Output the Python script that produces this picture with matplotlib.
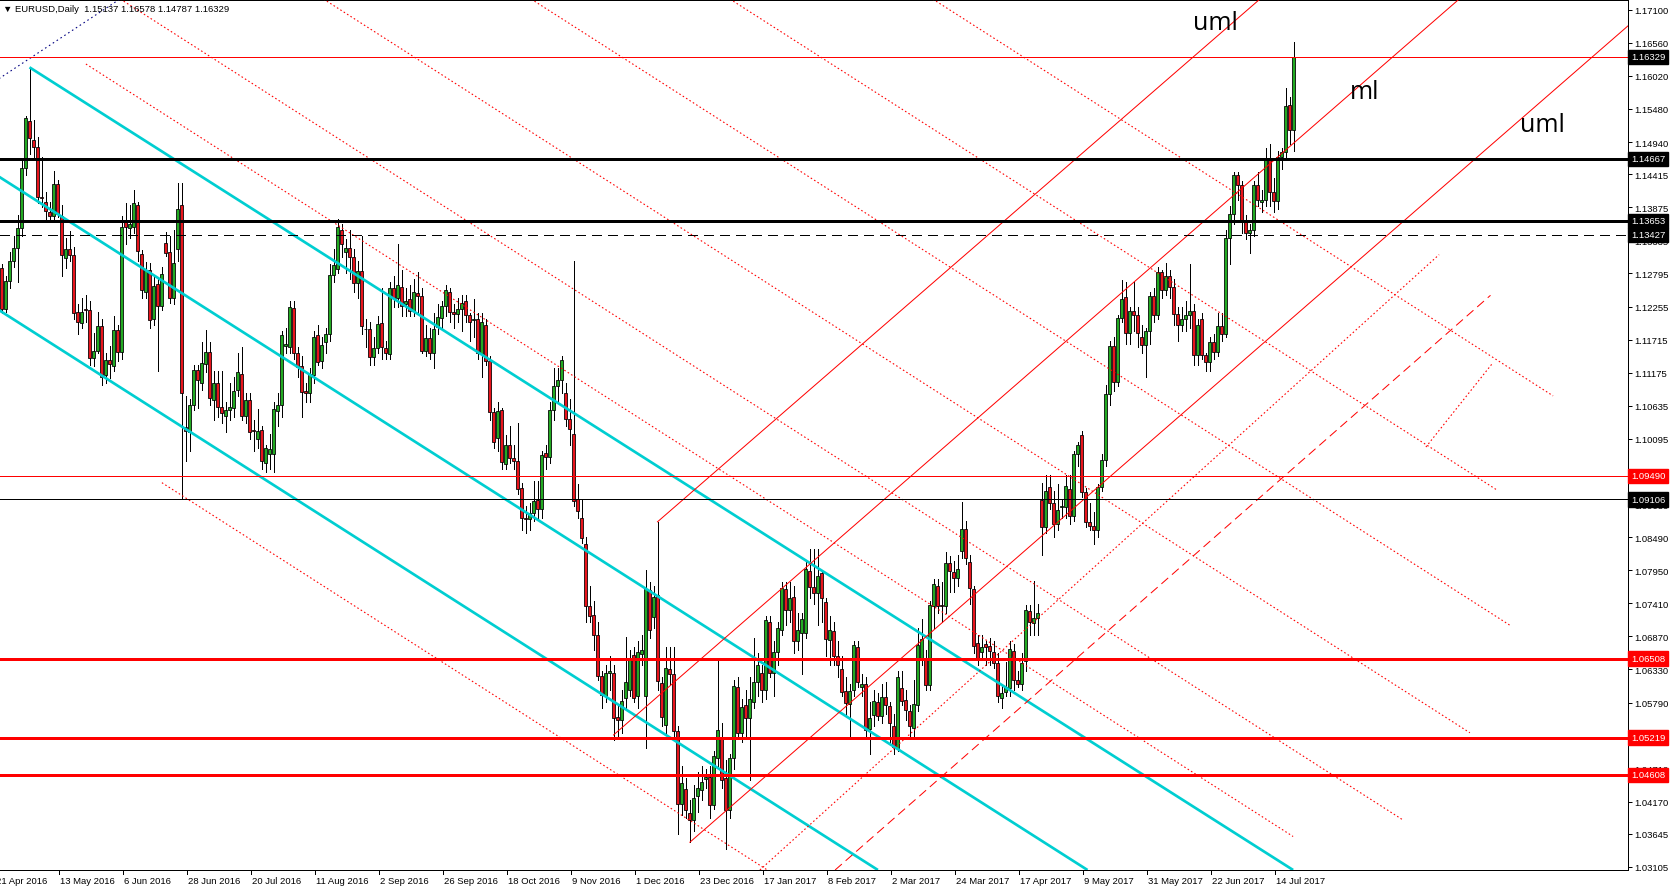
import numpy as np
import matplotlib
matplotlib.use("Agg")
import matplotlib.pyplot as plt
import matplotlib.transforms as mtransforms

plt.rcParams['font.family'] = ['Liberation Sans', 'DejaVu Sans']
plt.rcParams['lines.scale_dashes'] = False

# ---------------- data (daily bars, index 0 = 21 Apr 2016) ----------------
opens = [
1.1290,1.1288,1.1222,1.1267,1.1300,1.1321,1.1354,1.1451,1.1529,1.1497,
1.1486,1.1404,1.1396,1.1380,1.1373,1.1425,1.1374,1.1304,1.1319,1.1310,
1.1216,1.1199,1.1221,1.1220,1.1141,1.1153,1.1194,1.1113,1.1138,1.1128,
1.1187,1.1152,1.1366,1.1354,1.1355,1.1392,1.1311,1.1249,1.1285,1.1205,
1.1262,1.1226,1.1329,1.1314,1.1239,1.1320,1.1391,1.1029,1.1021,1.1064,
1.1122,1.1101,1.1132,1.1152,1.1073,1.1100,1.1061,1.1046,1.1056,1.1060,
1.1090,1.1115,1.1047,1.1073,1.1024,1.1010,1.1024,1.0970,1.0984,1.0985,
1.1055,1.1064,1.1161,1.1160,1.1223,1.1149,1.1128,1.1087,1.1084,1.1113,
1.1179,1.1136,1.1167,1.1181,1.1277,1.1286,1.1350,1.1315,1.1321,1.1306,
1.1264,1.1284,1.1189,1.1189,1.1143,1.1158,1.1199,1.1157,1.1148,1.1255,
1.1239,1.1257,1.1230,1.1238,1.1218,1.1247,1.1242,1.1153,1.1174,1.1150,
1.1192,1.1207,1.1226,1.1250,1.1216,1.1214,1.1222,1.1235,1.1211,1.1203,
1.1205,1.1148,1.1196,1.1136,1.1053,1.1011,1.1057,1.0968,1.0999,1.0979,
1.0973,1.0929,1.0880,1.0879,1.0889,1.0910,1.0895,1.0987,1.0980,1.1056,
1.1095,1.1105,1.1084,1.1042,1.1017,1.0912,1.0880,1.0837,1.0737,1.0722,
1.0690,1.0622,1.0590,1.0627,1.0627,1.0555,1.0550,1.0586,1.0600,1.0656,
1.0590,1.0659,1.0590,1.0762,1.0719,1.0754,1.0611,1.0542,1.0633,1.0626,
1.0532,1.0413,1.0438,1.0399,1.0387,1.0426,1.0437,1.0454,1.0457,1.0412,
1.0489,1.0523,1.0455,1.0404,1.0489,1.0604,1.0529,1.0575,1.0553,1.0580,
1.0613,1.0627,1.0600,1.0711,1.0628,1.0661,1.0698,1.0765,1.0730,1.0751,
1.0679,1.0693,1.0692,1.0794,1.0768,1.0757,1.0790,1.0743,1.0681,1.0695,
1.0655,1.0633,1.0598,1.0577,1.0600,1.0670,1.0604,1.0610,1.0535,1.0559,
1.0580,1.0557,1.0588,1.0573,1.0541,1.0504,1.0603,1.0583,1.0565,1.0537,
1.0575,1.0651,1.0652,1.0607,1.0737,1.0770,1.0738,1.0736,1.0806,1.0792,
1.0782,1.0827,1.0862,1.0809,1.0765,1.0676,1.0662,1.0674,1.0671,1.0662,
1.0644,1.0586,1.0597,1.0603,1.0663,1.0616,1.0610,1.0647,1.0728,1.0709,
1.0717,1.0910,1.0866,1.0931,1.0904,1.0870,1.0899,1.0899,1.0928,1.0884,
1.0984,1.1016,1.0922,1.0873,1.0867,1.0860,1.0931,1.0975,1.1083,1.1161,
1.1103,1.1207,1.1241,1.1182,1.1218,1.1211,1.1175,1.1163,1.1185,1.1243,
1.1211,1.1282,1.1253,1.1276,1.1257,1.1213,1.1196,1.1205,1.1211,1.1218,
1.1146,1.1205,1.1147,1.1135,1.1168,1.1151,1.1193,1.1180,1.1337,1.1376,
1.1440,1.1424,1.1364,1.1346,1.1351,1.1424,1.1396,1.1400,1.1467,1.1412,
1.1397,1.1470,1.1478,1.1555,1.15137]

highs = [
1.1339,1.1295,1.1275,1.1315,1.1340,1.1375,1.1465,1.1536,1.1616,1.1530,
1.1502,1.1470,1.1412,1.1396,1.1446,1.1432,1.1392,1.1337,1.1348,1.1322,
1.1230,1.1240,1.1245,1.1235,1.1183,1.1216,1.1205,1.1150,1.1161,1.1210,
1.1196,1.1373,1.1395,1.1392,1.1416,1.1396,1.1318,1.1298,1.1296,1.1275,
1.1270,1.1290,1.1347,1.1340,1.1350,1.1427,1.1427,1.1080,1.1075,1.1130,
1.1130,1.1168,1.1187,1.1168,1.1120,1.1120,1.1120,1.1070,1.1100,1.1110,
1.1150,1.1160,1.1085,1.1085,1.1040,1.1058,1.1030,1.1000,1.1018,1.1070,
1.1085,1.1185,1.1190,1.1235,1.1235,1.1160,1.1145,1.1100,1.1125,1.1185,
1.1195,1.1175,1.1190,1.1295,1.1320,1.1368,1.1360,1.1335,1.1350,1.1320,
1.1300,1.1340,1.1205,1.1200,1.1175,1.1210,1.1255,1.1170,1.1265,1.1275,
1.1327,1.1285,1.1255,1.1260,1.1270,1.1282,1.1255,1.1195,1.1190,1.1215,
1.1230,1.1235,1.1260,1.1255,1.1230,1.1240,1.1245,1.1245,1.1215,1.1238,
1.1215,1.1215,1.1205,1.1145,1.1060,1.1070,1.1060,1.1015,1.1030,1.1000,
1.1035,1.0937,1.0900,1.0905,1.0940,1.0940,1.0990,1.1000,1.1070,1.1125,
1.1125,1.1145,1.1100,1.1075,1.1299,1.0935,1.0910,1.0850,1.0770,1.0745,
1.0710,1.0630,1.0640,1.0655,1.0640,1.0575,1.0600,1.0686,1.0665,1.0670,
1.0680,1.0690,1.0796,1.0775,1.0770,1.0874,1.0620,1.0670,1.0670,1.0670,
1.0540,1.0475,1.0455,1.0420,1.0445,1.0465,1.0475,1.0470,1.0475,1.0500,
1.0652,1.0545,1.0485,1.0495,1.0615,1.0620,1.0585,1.0600,1.0620,1.0685,
1.0660,1.0640,1.0720,1.0720,1.0680,1.0710,1.0775,1.0775,1.0775,1.0770,
1.0725,1.0725,1.0810,1.0830,1.0830,1.0830,1.0795,1.0750,1.0720,1.0710,
1.0680,1.0655,1.0620,1.0610,1.0680,1.0680,1.0625,1.0620,1.0580,1.0600,
1.0595,1.0610,1.0612,1.0580,1.0560,1.0630,1.0630,1.0600,1.0575,1.0615,
1.0700,1.0715,1.0665,1.0745,1.0780,1.0780,1.0775,1.0825,1.0818,1.0810,
1.0820,1.0906,1.0875,1.0820,1.0770,1.0690,1.0690,1.0680,1.0685,1.0680,
1.0660,1.0610,1.0645,1.0680,1.0675,1.0630,1.0660,1.0738,1.0738,1.0778,
1.0740,1.0937,1.0950,1.0950,1.0925,1.0935,1.0910,1.0950,1.0950,1.0990,
1.1005,1.1023,1.0930,1.0905,1.0890,1.0935,1.0985,1.1098,1.1170,1.1175,
1.1212,1.1268,1.1265,1.1225,1.1265,1.1225,1.1195,1.1190,1.1250,1.1255,
1.1290,1.1285,1.1296,1.1285,1.1270,1.1225,1.1225,1.1235,1.1295,1.1230,
1.1205,1.1215,1.1150,1.1175,1.1180,1.1215,1.1215,1.1350,1.1390,1.1445,
1.1445,1.1430,1.1375,1.1360,1.1430,1.1445,1.1415,1.1485,1.1490,1.1435,
1.1480,1.1485,1.1583,1.1568,1.16578]

lows = [
1.1275,1.1215,1.1217,1.1255,1.1290,1.1266,1.1340,1.1440,1.1475,1.1466,
1.1395,1.1388,1.1366,1.1365,1.1365,1.1372,1.1275,1.1288,1.1300,1.1205,
1.1180,1.1190,1.1200,1.1130,1.1128,1.1150,1.1097,1.1100,1.1109,1.1120,
1.1137,1.1140,1.1327,1.1337,1.1345,1.1300,1.1240,1.1240,1.1190,1.1195,
1.1120,1.1220,1.1308,1.1232,1.1230,1.1300,1.0911,1.0973,1.0990,1.1056,
1.1060,1.1090,1.1118,1.1064,1.1040,1.1045,1.1035,1.1020,1.1040,1.1045,
1.1080,1.1040,1.1035,1.1010,1.0990,1.0995,1.0960,1.0955,1.0960,1.0955,
1.1030,1.1045,1.1150,1.1150,1.1140,1.1110,1.1045,1.1070,1.1070,1.1100,
1.1130,1.1125,1.1150,1.1170,1.1265,1.1280,1.1306,1.1280,1.1270,1.1250,
1.1240,1.1180,1.1160,1.1130,1.1130,1.1150,1.1140,1.1140,1.1140,1.1225,
1.1225,1.1210,1.1210,1.1210,1.1210,1.1215,1.1150,1.1145,1.1140,1.1125,
1.1180,1.1190,1.1210,1.1200,1.1190,1.1200,1.1185,1.1200,1.1170,1.1175,
1.1140,1.1110,1.1130,1.1040,1.0995,1.0990,1.0960,1.0960,1.0970,1.0960,
1.0920,1.0860,1.0855,1.0860,1.0875,1.0880,1.0880,1.0960,1.0970,1.1040,
1.1070,1.1085,1.1030,1.1000,1.0900,1.0880,1.0840,1.0710,1.0710,1.0665,
1.0615,1.0570,1.0580,1.0600,1.0518,1.0520,1.0530,1.0570,1.0590,1.0580,
1.0570,1.0640,1.0505,1.0685,1.0700,1.0600,1.0540,1.0530,1.0610,1.0520,
1.0365,1.0395,1.0390,1.0352,1.0370,1.0400,1.0420,1.0440,1.0390,1.0405,
1.0475,1.0440,1.0340,1.0390,1.0470,1.0525,1.0515,1.0520,1.0453,1.0570,
1.0590,1.0580,1.0585,1.0620,1.0590,1.0640,1.0690,1.0705,1.0710,1.0660,
1.0665,1.0625,1.0685,1.0750,1.0740,1.0705,1.0710,1.0655,1.0640,1.0640,
1.0620,1.0590,1.0560,1.0520,1.0590,1.0605,1.0590,1.0525,1.0495,1.0540,
1.0550,1.0545,1.0560,1.0510,1.0495,1.0500,1.0575,1.0550,1.0525,1.0525,
1.0565,1.0640,1.0600,1.0600,1.0700,1.0725,1.0710,1.0725,1.0760,1.0760,
1.0770,1.0815,1.0805,1.0740,1.0660,1.0640,1.0650,1.0640,1.0640,1.0635,
1.0580,1.0570,1.0590,1.0590,1.0600,1.0605,1.0600,1.0630,1.0690,1.0690,
1.0690,1.0820,1.0855,1.0895,1.0850,1.0860,1.0880,1.0880,1.0870,1.0875,
1.0965,1.0915,1.0865,1.0860,1.0838,1.0850,1.0925,1.0965,1.1065,1.1088,
1.1095,1.1200,1.1165,1.1165,1.1185,1.1160,1.1150,1.1110,1.1165,1.1200,
1.1205,1.1240,1.1245,1.1240,1.1195,1.1170,1.1185,1.1185,1.1190,1.1130,
1.1130,1.1140,1.1120,1.1120,1.1140,1.1145,1.1170,1.1175,1.1295,1.1360,
1.1400,1.1345,1.1335,1.1313,1.1340,1.1390,1.1380,1.1390,1.1390,1.1380,
1.1385,1.1450,1.1470,1.1490,1.14787]

closes = [
1.1289,1.1222,1.1267,1.1300,1.1321,1.1354,1.1451,1.1533,1.1500,1.1486,
1.1404,1.1402,1.1382,1.1374,1.1425,1.1377,1.1310,1.1319,1.1310,1.1215,
1.1200,1.1216,1.1219,1.1141,1.1153,1.1194,1.1111,1.1138,1.1131,1.1187,
1.1151,1.1355,1.1355,1.1360,1.1394,1.1316,1.1253,1.1285,1.1204,1.1259,
1.1226,1.1278,1.1313,1.1240,1.1296,1.1384,1.1085,1.1022,1.1064,1.1122,
1.1105,1.1134,1.1152,1.1076,1.1100,1.1061,1.1052,1.1057,1.1062,1.1088,
1.1119,1.1047,1.1073,1.1020,1.1022,1.1022,1.0973,1.0994,1.0993,1.1058,
1.1064,1.1179,1.1165,1.1224,1.1149,1.1127,1.1086,1.1084,1.1115,1.1175,
1.1135,1.1162,1.1181,1.1277,1.1293,1.1355,1.1327,1.1321,1.1306,1.1264,
1.1284,1.1193,1.1188,1.1143,1.1157,1.1197,1.1159,1.1150,1.1255,1.1239,
1.1261,1.1226,1.1234,1.1218,1.1249,1.1242,1.1153,1.1174,1.1149,1.1189,
1.1208,1.1227,1.1252,1.1216,1.1214,1.1222,1.1231,1.1211,1.1201,1.1205,
1.1150,1.1200,1.1136,1.1053,1.1004,1.1055,1.0971,1.0999,1.0979,1.0973,
1.0928,1.0880,1.0878,1.0889,1.0908,1.0895,1.0983,1.0980,1.1056,1.1095,
1.1105,1.1138,1.1042,1.1025,1.0908,1.0892,1.0847,1.0737,1.0720,1.0690,
1.0622,1.0592,1.0627,1.0630,1.0553,1.0550,1.0582,1.0613,1.0648,1.0587,
1.0661,1.0664,1.0764,1.0698,1.0751,1.0614,1.0556,1.0635,1.0626,1.0532,
1.0413,1.0448,1.0403,1.0388,1.0423,1.0439,1.0450,1.0458,1.0412,1.0492,
1.0534,1.0453,1.0404,1.0489,1.0606,1.0529,1.0572,1.0553,1.0584,1.0613,
1.0641,1.0600,1.0713,1.0628,1.0661,1.0700,1.0766,1.0730,1.0749,1.0679,
1.0698,1.0715,1.0797,1.0768,1.0757,1.0785,1.0749,1.0683,1.0698,1.0655,
1.0640,1.0596,1.0578,1.0598,1.0673,1.0612,1.0610,1.0534,1.0554,1.0581,
1.0557,1.0588,1.0575,1.0546,1.0506,1.0620,1.0581,1.0566,1.0541,1.0576,
1.0673,1.0683,1.0608,1.0738,1.0772,1.0737,1.0736,1.0806,1.0793,1.0782,
1.0797,1.0862,1.0815,1.0766,1.0672,1.0651,1.0670,1.0670,1.0663,1.0643,
1.0589,1.0594,1.0604,1.0667,1.0616,1.0610,1.0643,1.0730,1.0710,1.0717,
1.0725,1.0866,1.0925,1.0904,1.0871,1.0893,1.0899,1.0932,1.0884,1.0984,
1.0999,1.0922,1.0873,1.0867,1.0860,1.0931,1.0975,1.1083,1.1161,1.1103,
1.1207,1.1237,1.1182,1.1218,1.1211,1.1182,1.1163,1.1185,1.1243,1.1211,
1.1282,1.1253,1.1276,1.1257,1.1213,1.1196,1.1205,1.1211,1.1218,1.1146,
1.1195,1.1147,1.1135,1.1168,1.1151,1.1193,1.1180,1.1337,1.1376,1.1440,
1.1424,1.1364,1.1346,1.1351,1.1424,1.1400,1.1400,1.1467,1.1412,1.1397,
1.1470,1.1478,1.1553,1.1514,1.16329]

date_labels = ['21 Apr 2016', '13 May 2016', '6 Jun 2016', '28 Jun 2016', '20 Jul 2016',
               '11 Aug 2016', '2 Sep 2016', '26 Sep 2016', '18 Oct 2016', '9 Nov 2016',
               '1 Dec 2016', '23 Dec 2016', '17 Jan 2017', '8 Feb 2017', '2 Mar 2017',
               '24 Mar 2017', '17 Apr 2017', '9 May 2017', '31 May 2017', '22 Jun 2017',
               '14 Jul 2017']
date_positions = [16 * k for k in range(len(date_labels))]

price_ticks = [1.17100, 1.16560, 1.16020, 1.15480, 1.14940, 1.14415, 1.13875, 1.13335,
               1.12795, 1.12255, 1.11715, 1.11175, 1.10635, 1.10095, 1.09555, 1.09030,
               1.08490, 1.07950, 1.07410, 1.06870, 1.06330, 1.05790, 1.05250, 1.04710,
               1.04170, 1.03645, 1.03105]

# horizontal levels: (price, line colour, width px, style, label box colour)
h_levels = [
    (1.16329, '#ff0000', 1, 'solid', '#000000'),
    (1.14667, '#000000', 3, 'solid', '#000000'),
    (1.13653, '#000000', 3, 'solid', '#000000'),
    (1.13427, '#000000', 1, 'dashed', '#000000'),
    (1.09490, '#ff0000', 1, 'solid', '#ff0000'),
    (1.09106, '#000000', 1, 'solid', '#000000'),
    (1.06508, '#ff0000', 3, 'solid', '#ff0000'),
    (1.05219, '#ff0000', 3, 'solid', '#ff0000'),
    (1.04608, '#ff0000', 3, 'solid', '#ff0000'),
]

# descending channel (cyan): ((bar, price), (bar, price))
cyan_lines = [((8.0, 1.1616), (323.9, 1.03056)),
              ((-1.9, 1.14469), (272.5, 1.03056)),
              ((-1.9, 1.12291), (220.1, 1.03056))]

# descending red dotted parallels
red_dotted_desc = [((229.9, 1.17438), (388.9, 1.10796)),
                   ((179.2, 1.17438), (374.9, 1.09258)),
                   ((129.5, 1.17438), (378.4, 1.07039)),
                   ((77.6, 1.17438), (368.1, 1.05296)),
                   ((26.8, 1.17438), (351.1, 1.03884)),
                   ((22.1, 1.16214), (323.9, 1.03603)),
                   ((41.1, 1.09379), (192.4, 1.03058))]

navy_dotted = ((-1.9, 1.15877), (34.4, 1.17438))

# ascending pitchfork (solid red): upper, median, lower
fork_lines = [((165.0, 1.0874), (318.5, 1.17438)),
              ((154.0, 1.0526), (368.3, 1.17438)),
              ((173.1, 1.0351), (410.6, 1.17006))]

asc_dotted = [((190.6, 1.03056), (360.4, 1.13102)),
              ((357.1, 1.09961), (373.6, 1.11316))]
asc_dashed = [((209.4, 1.03056), (373.25, 1.12438))]

fork_labels = [(298.9, 1.16785, 'uml'), (338.1, 1.15659, 'ml'), (380.6, 1.15120, 'uml')]

title_text = '\u25bc EURUSD,Daily  1.15137 1.16578 1.14787 1.16329'

# ---------------- figure ----------------
W, H = 1673, 895
PX = 0.72  # points per pixel at dpi 100
fig = plt.figure(figsize=(W / 100, H / 100), dpi=100)
fig.patch.set_facecolor('white')
ax_left, ax_right, ax_top, ax_bottom = 0, 1628, 1, 871
ax = fig.add_axes([ax_left / W, (H - ax_bottom) / H, (ax_right - ax_left) / W, (ax_bottom - ax_top) / H])
ax.set_facecolor('white')
ax.set_xlim(0.625, 407.625)
ax.set_ylim(1.03056, 1.17259)

O = np.array(opens); Hh = np.array(highs); L = np.array(lows); C = np.array(closes)
n = min(len(O), len(Hh), len(L), len(C))
O, Hh, L, C = O[:n], Hh[:n], L[:n], C[:n]
x = np.arange(n)
up = C >= O
bottoms = np.minimum(O, C)
heights = np.maximum(np.abs(C - O), 0.00003)
colors = np.where(up, '#22aa22', '#e8141c')

ax.vlines(x, L, Hh, color='black', linewidth=1 * PX, zorder=2, antialiased=False)
ax.bar(x, heights, bottom=bottoms, width=0.74, color=colors, edgecolor='black',
       linewidth=0.8 * PX, zorder=2.2)

DOT = (0, (1.6 * PX, 2.4 * PX))

def seg(p, **kw):
    (x0, y0), (x1, y1) = p
    ax.plot([x0, x1], [y0, y1], **kw)

for p in cyan_lines:
    seg(p, color='#00ced1', linewidth=2.7 * PX, zorder=3, solid_capstyle='butt')
for p in red_dotted_desc:
    seg(p, color='#ff0000', linewidth=1.1 * PX, linestyle=DOT, zorder=3,
        dash_capstyle='butt')
seg(navy_dotted, color='#000080', linewidth=1.1 * PX, linestyle=(0, (1.6 * PX, 3 * PX)),
    zorder=3)
for p in fork_lines:
    seg(p, color='#ff0000', linewidth=1 * PX, zorder=3)
for p in asc_dotted:
    seg(p, color='#ff0000', linewidth=1.1 * PX, linestyle=DOT, zorder=3,
        dash_capstyle='butt')
for p in asc_dashed:
    seg(p, color='#ff0000', linewidth=1.0 * PX, linestyle=(0, (9 * PX, 5 * PX)), zorder=3)

for price, col, wpx, style, boxcol in h_levels:
    ls = (0, (10 * PX, 6 * PX)) if style == 'dashed' else 'solid'
    ax.axhline(price, color=col, linewidth=wpx * PX, linestyle=ls, zorder=3.5,
               antialiased=False)

for xi, yi, t in fork_labels:
    ax.text(xi, yi, t, fontsize=18, color='black', ha='left', va='baseline', zorder=5,
            family=['Open Sans', 'Liberation Sans', 'DejaVu Sans'])

# axes styling
for s in ['top', 'bottom', 'right', 'left']:
    ax.spines[s].set_color('black')
    ax.spines[s].set_linewidth(1 * PX)
ax.spines['left'].set_visible(False)

ax.yaxis.tick_right()
ax.set_yticks(price_ticks)
ax.set_yticklabels(['%.5f' % v for v in price_ticks])
ax.tick_params(axis='y', direction='out', length=4 * PX, width=1 * PX, pad=2 * PX,
               labelsize=6.8, colors='black')
ax.set_xticks([])

trans_x = mtransforms.blended_transform_factory(ax.transData, ax.transAxes)
for pos, lab in zip(date_positions, date_labels):
    xp = pos - 0.6
    ax.plot([xp, xp], [0, -4.0 / 870], transform=trans_x, color='black',
            linewidth=1 * PX, clip_on=False, zorder=6)
    ax.text(xp + 0.3, -6.0 / 870, lab, transform=trans_x, ha='left', va='top',
            fontsize=6.8, color='black', clip_on=False, zorder=6)

# price boxes on the right axis
trans_y = mtransforms.blended_transform_factory(ax.transAxes, ax.transData)
for price, col, wpx, style, boxcol in h_levels:
    ax.text(1.0 + 3.0 / 1628, price, '%.5f' % price, transform=trans_y, ha='left',
            va='center', fontsize=6.8, color='white', clip_on=False, zorder=10,
            bbox=dict(boxstyle='square,pad=0.28', facecolor=boxcol, edgecolor=boxcol))

fig.text(3 / W, 1 - 9 / H, title_text, fontsize=6.8, ha='left', va='center', color='black')

fig.savefig('out.png', dpi=100, facecolor='white')
